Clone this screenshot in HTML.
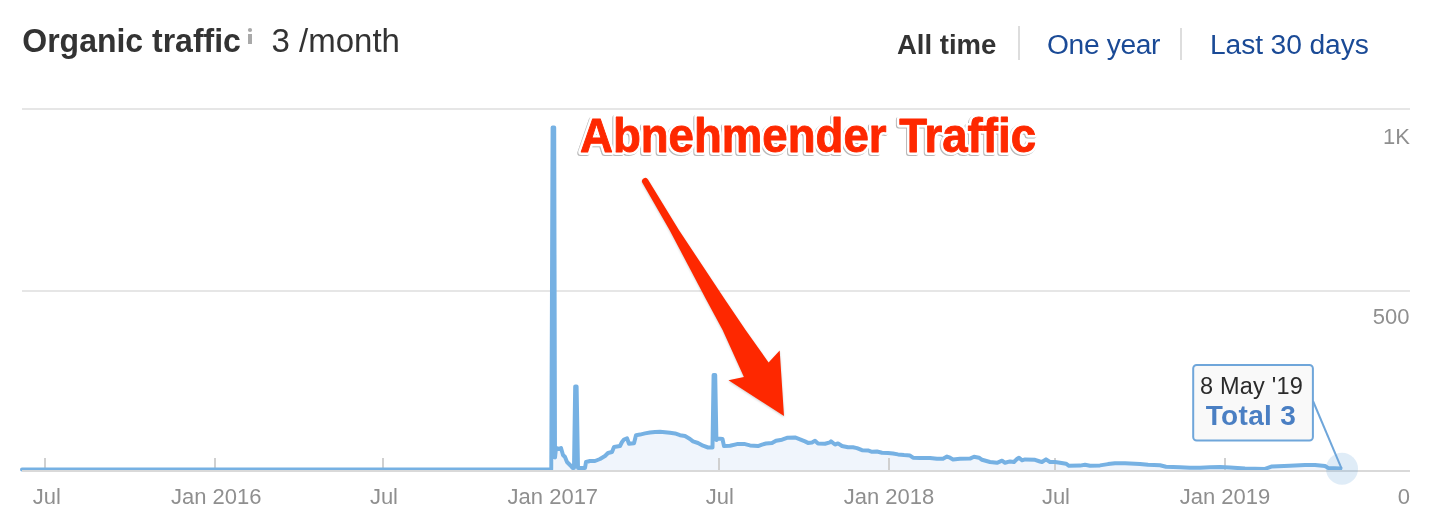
<!DOCTYPE html>
<html><head><meta charset="utf-8"><style>
html,body{margin:0;padding:0;background:#fff;}
body{width:1430px;height:528px;overflow:hidden;position:relative;font-family:"Liberation Sans", sans-serif;}
svg{position:absolute;left:0;top:0;will-change:transform;}
svg text{font-family:"Liberation Sans", sans-serif;}
</style></head><body>
<svg width="1430" height="528" viewBox="0 0 1430 528">
<rect x="22" y="108" width="1388" height="2" fill="#e6e6e6"/>
<rect x="22" y="290" width="1388" height="2" fill="#e6e6e6"/>
<path d="M554.2,470 L554.2,127.5 L555,457.5 L556,448 L559,449 L561,448 L563,455 L565,457 L567,462 L569,464 L571,466 L572.6,468 L574,468 L575.2,386.5 L576.6,386.5 L578,468 L585,468 L586,462 L590,461 L595,461 L600,459 L605,456 L608,453 L612,452 L614,447 L620,446 L622,442 L624,439.5 L627,438.3 L629,443.8 L634,443.2 L636,435.2 L640,434.6 L645,433.4 L650,432.5 L655,432 L660,431.7 L665,432.2 L670,432.8 L675,433.4 L680,435.2 L685,436 L690,439 L693,441.4 L698,443 L703,445.7 L708,447.5 L712.5,447.5 L713.6,375 L715.2,375 L716.4,440 L718,438.5 L722.5,439 L724,446.1 L730,445.8 L737,444.1 L745,444.1 L750,445.4 L758,446.1 L762,444.6 L766,443.5 L772,443.1 L776,440.8 L782,439.7 L787,437.8 L795,437.4 L800,439.3 L805,441.4 L808,442.9 L812,442.4 L815,440.8 L818,443.4 L825,443.75 L830,442.4 L831,441.4 L835,444.5 L838,443.4 L842,446 L848,447.3 L853,447.3 L857,448.1 L862,450.2 L868,450.4 L872,451.8 L877,451.5 L882,452.8 L888,453.1 L893,453.5 L898,454.4 L904,455.1 L910,455.6 L913,457.7 L920,458 L930,458 L937,458.8 L943,458.8 L947,456.6 L950,457.7 L953,459.4 L960,458.8 L970,458.6 L974,456.8 L979,457.7 L982,459.8 L990,462 L997,462.8 L1002,460.7 L1005,462.8 L1010,461.4 L1014,462 L1017,459 L1019,457.7 L1022,460.3 L1025,459.4 L1035,459.8 L1040,461.5 L1042,462 L1046,459.4 L1050,462 L1055,462 L1060,462.8 L1066,463.7 L1069,465.8 L1080,465.6 L1085,464.8 L1090,465.8 L1100,465.4 L1108,464.1 L1115,463.2 L1125,463.2 L1140,463.9 L1148,464.8 L1160,465.2 L1166,466.7 L1180,467.3 L1190,467.7 L1200,467.7 L1210,467.3 L1220,467 L1230,467.5 L1245,468.4 L1265,468.9 L1272,466.4 L1290,465.7 L1305,465 L1315,465 L1325,466 L1328,467.9 L1340.5,468.4 L1341.5,470 Z" fill="#f0f5fc"/>
<rect x="44" y="458" width="2" height="12" fill="#d0d0d0"/>
<rect x="214" y="458" width="2" height="12" fill="#d0d0d0"/>
<rect x="382" y="458" width="2" height="12" fill="#d0d0d0"/>
<rect x="551" y="458" width="2" height="12" fill="#d0d0d0"/>
<rect x="718" y="458" width="2" height="12" fill="#d0d0d0"/>
<rect x="888" y="458" width="2" height="12" fill="#d0d0d0"/>
<rect x="1054" y="458" width="2" height="12" fill="#d0d0d0"/>
<rect x="1224" y="458" width="2" height="12" fill="#d0d0d0"/>
<path d="M22,469.6 L551.3,469.6 L552.6,127.5 L554.2,127.5 L555,457.5 L556,448 L559,449 L561,448 L563,455 L565,457 L567,462 L569,464 L571,466 L572.6,468 L574,468 L575.2,386.5 L576.6,386.5 L578,468 L585,468 L586,462 L590,461 L595,461 L600,459 L605,456 L608,453 L612,452 L614,447 L620,446 L622,442 L624,439.5 L627,438.3 L629,443.8 L634,443.2 L636,435.2 L640,434.6 L645,433.4 L650,432.5 L655,432 L660,431.7 L665,432.2 L670,432.8 L675,433.4 L680,435.2 L685,436 L690,439 L693,441.4 L698,443 L703,445.7 L708,447.5 L712.5,447.5 L713.6,375 L715.2,375 L716.4,440 L718,438.5 L722.5,439 L724,446.1 L730,445.8 L737,444.1 L745,444.1 L750,445.4 L758,446.1 L762,444.6 L766,443.5 L772,443.1 L776,440.8 L782,439.7 L787,437.8 L795,437.4 L800,439.3 L805,441.4 L808,442.9 L812,442.4 L815,440.8 L818,443.4 L825,443.75 L830,442.4 L831,441.4 L835,444.5 L838,443.4 L842,446 L848,447.3 L853,447.3 L857,448.1 L862,450.2 L868,450.4 L872,451.8 L877,451.5 L882,452.8 L888,453.1 L893,453.5 L898,454.4 L904,455.1 L910,455.6 L913,457.7 L920,458 L930,458 L937,458.8 L943,458.8 L947,456.6 L950,457.7 L953,459.4 L960,458.8 L970,458.6 L974,456.8 L979,457.7 L982,459.8 L990,462 L997,462.8 L1002,460.7 L1005,462.8 L1010,461.4 L1014,462 L1017,459 L1019,457.7 L1022,460.3 L1025,459.4 L1035,459.8 L1040,461.5 L1042,462 L1046,459.4 L1050,462 L1055,462 L1060,462.8 L1066,463.7 L1069,465.8 L1080,465.6 L1085,464.8 L1090,465.8 L1100,465.4 L1108,464.1 L1115,463.2 L1125,463.2 L1140,463.9 L1148,464.8 L1160,465.2 L1166,466.7 L1180,467.3 L1190,467.7 L1200,467.7 L1210,467.3 L1220,467 L1230,467.5 L1245,468.4 L1265,468.9 L1272,466.4 L1290,465.7 L1305,465 L1315,465 L1325,466 L1328,467.9 L1340.5,468.4" fill="none" stroke="#76b1e3" stroke-width="4" stroke-linejoin="round" stroke-linecap="round"/>
<rect x="22" y="470" width="1388" height="2" fill="#d9d9d9"/>
<circle cx="1342" cy="468.7" r="16" fill="#6fa8dc" fill-opacity="0.22"/>
<text transform="translate(46.8,504) scale(0.965,1)" font-size="22.8" fill="#8f8f8f" text-anchor="middle">Jul</text>
<text transform="translate(216.25,504) scale(0.965,1)" font-size="22.8" fill="#8f8f8f" text-anchor="middle">Jan 2016</text>
<text transform="translate(383.95,504) scale(0.965,1)" font-size="22.8" fill="#8f8f8f" text-anchor="middle">Jul</text>
<text transform="translate(552.85,504) scale(0.965,1)" font-size="22.8" fill="#8f8f8f" text-anchor="middle">Jan 2017</text>
<text transform="translate(719.8,504) scale(0.965,1)" font-size="22.8" fill="#8f8f8f" text-anchor="middle">Jul</text>
<text transform="translate(889,504) scale(0.965,1)" font-size="22.8" fill="#8f8f8f" text-anchor="middle">Jan 2018</text>
<text transform="translate(1055.95,504) scale(0.965,1)" font-size="22.8" fill="#8f8f8f" text-anchor="middle">Jul</text>
<text transform="translate(1225,504) scale(0.965,1)" font-size="22.8" fill="#8f8f8f" text-anchor="middle">Jan 2019</text>
<text transform="translate(1410,144) scale(0.965,1)" font-size="22.8" fill="#8f8f8f" text-anchor="end">1K</text>
<text transform="translate(1409.5,324) scale(0.965,1)" font-size="22.8" fill="#8f8f8f" text-anchor="end">500</text>
<text transform="translate(1410,504) scale(0.965,1)" font-size="22.8" fill="#8f8f8f" text-anchor="end">0</text>
<path d="M1313,401 L1341.5,468.4" stroke="#6fa6da" stroke-width="2" fill="none"/>
<rect x="1193.2" y="365" width="119.7" height="75.5" rx="3.5" fill="#f9f9f9" stroke="#6fa6da" stroke-width="2"/>
<text x="1251.5" y="394" text-anchor="middle" font-size="23.5" letter-spacing="0.2" fill="#2b2b2b">8 May '19</text>
<text x="1251" y="425" text-anchor="middle" font-size="28" letter-spacing="0.35" font-weight="bold" fill="#4a7fc3">Total 3</text>
<text transform="translate(22.3,52) scale(0.9466,1)" font-size="33.8" fill="#333" font-weight="bold">Organic traffic</text>
<circle cx="250" cy="30" r="2.1" fill="#a9a9a9"/><rect x="248" y="34" width="4" height="10" fill="#a9a9a9"/>
<text transform="translate(271.5,52)" font-size="33" fill="#333">3 /month</text>
<text x="897" y="54" font-size="27.5" font-weight="bold" fill="#333">All time</text>
<rect x="1018" y="26" width="2" height="34" fill="#dddddd"/>
<text x="1047" y="54" font-size="28.2" letter-spacing="-0.35" fill="#1a4a96">One year</text>
<rect x="1180" y="28" width="2" height="32" fill="#dddddd"/>
<text x="1210" y="54" font-size="28.2" letter-spacing="-0.1" fill="#1a4a96">Last 30 days</text>
<text x="580" y="152" font-size="48" textLength="456" lengthAdjust="spacingAndGlyphs" font-weight="bold" fill="#fff" stroke="#fff" stroke-width="6" stroke-linejoin="round" style="filter:drop-shadow(-0.7px 1.6px 0.6px rgba(0,0,0,0.28))">Abnehmender Traffic</text>
<text x="580" y="152" font-size="48" textLength="456" lengthAdjust="spacingAndGlyphs" font-weight="bold" fill="#fe2800" stroke="#fe2800" stroke-width="0.9" stroke-linejoin="round">Abnehmender Traffic</text>
<path d="M642.5,183 L669.5,230 L706.4,300 L722.6,330 L743.9,376.9 L728.5,380.3 L784,416.1 L779.7,350.5 L768.6,362.4 L745.6,330 L725.3,300 L678.9,230 L648,179.5 A3.2,3.2 0 0 0 642.5,183 Z" fill="#fe2800" style="filter:drop-shadow(0 1px 1px rgba(0,0,0,0.2))"/>
</svg>
</body></html>
